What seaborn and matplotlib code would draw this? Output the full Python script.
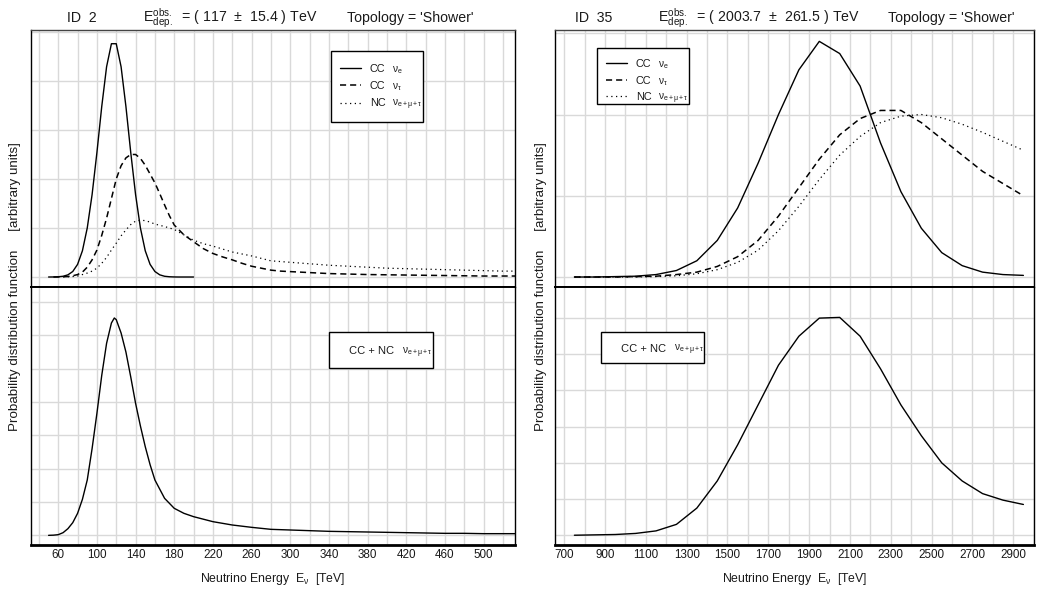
import matplotlib
matplotlib.use("Agg")
import matplotlib.pyplot as plt
import seaborn as sns
import numpy as np
import pandas as pd
from matplotlib.lines import Line2D
from matplotlib.patches import Rectangle

# ---------------- data ----------------
# Event ID 2 (left column)
l_cce_x = [50, 55, 60, 65, 70, 75, 80, 85, 90, 95, 100, 105, 110, 115, 120, 125, 130, 135,
           140, 145, 150, 155, 160, 165, 170, 175, 180, 185, 190, 200]
l_cce_y = [0.0, 0.001, 0.005, 0.015, 0.044, 0.112, 0.258, 0.535, 1.0, 1.68, 2.54, 3.48, 4.29,
           4.76, 4.76, 4.29, 3.48, 2.54, 1.68, 1.0, 0.535, 0.258, 0.112, 0.044, 0.015, 0.005,
           0.001, 0.0, 0.0, 0.0]
l_cct_x = [55, 60, 65, 70, 75, 80, 85, 90, 95, 100, 105, 110, 115, 120, 125, 130, 135, 140, 145,
           150, 155, 160, 165, 170, 175, 180, 190, 200, 210, 220, 230, 240, 250, 260, 270, 280,
           290, 300, 320, 340, 360, 380, 400, 420, 440, 460, 480, 500, 520, 533]
l_cct_y = [0.0, 0.0, 0.005, 0.01, 0.025, 0.05, 0.1, 0.2, 0.35, 0.55, 0.85, 1.2, 1.6, 2.0, 2.27,
           2.43, 2.5, 2.5, 2.42, 2.28, 2.1, 1.92, 1.7, 1.47, 1.25, 1.06, 0.86, 0.72, 0.58, 0.48,
           0.41, 0.35, 0.28, 0.22, 0.18, 0.14, 0.12, 0.11, 0.09, 0.07, 0.06, 0.05, 0.045, 0.04,
           0.035, 0.03, 0.025, 0.02, 0.02, 0.02]
l_nc_x = [65, 70, 75, 80, 85, 90, 95, 100, 105, 110, 115, 120, 125, 130, 135, 140, 145, 150, 155,
          160, 170, 180, 190, 200, 210, 220, 230, 240, 250, 260, 270, 280, 300, 320, 340, 360,
          380, 400, 420, 440, 460, 480, 500, 520, 533]
l_nc_y = [0.0, 0.005, 0.01, 0.02, 0.05, 0.08, 0.12, 0.18, 0.28, 0.4, 0.55, 0.69, 0.84, 0.96,
          1.07, 1.14, 1.16, 1.15, 1.12, 1.08, 1.03, 0.97, 0.86, 0.75, 0.68, 0.63, 0.57, 0.51,
          0.47, 0.43, 0.38, 0.33, 0.3, 0.27, 0.24, 0.22, 0.2, 0.18, 0.17, 0.16, 0.15, 0.14,
          0.13, 0.12, 0.12]
l_sum_x = [50, 55, 60, 65, 70, 75, 80, 85, 90, 95, 100, 105, 110, 115, 118, 120, 125, 130, 135,
           140, 145, 150, 155, 160, 170, 180, 190, 200, 220, 240, 260, 280, 300, 320, 340, 360,
           380, 400, 420, 440, 460, 480, 500, 520, 533]
l_sum_y = [0.0, 0.005, 0.02, 0.08, 0.2, 0.38, 0.66, 1.08, 1.66, 2.6, 3.66, 4.8, 5.76, 6.37, 6.52,
           6.47, 6.07, 5.5, 4.75, 3.96, 3.28, 2.66, 2.12, 1.66, 1.11, 0.81, 0.66, 0.56, 0.41,
           0.31, 0.24, 0.18, 0.16, 0.14, 0.12, 0.11, 0.1, 0.09, 0.08, 0.07, 0.06, 0.06, 0.05,
           0.05, 0.05]

# Event ID 35 (right column)
r_x = [750, 850, 950, 1050, 1150, 1250, 1350, 1450, 1550, 1650, 1750, 1850, 1950, 2050, 2150,
       2250, 2350, 2450, 2550, 2650, 2750, 2850, 2950]
r_cce_y = [0.0, 0.0, 0.005, 0.01, 0.03, 0.08, 0.2, 0.45, 0.85, 1.4, 2.0, 2.55, 2.9, 2.75, 2.35,
           1.65, 1.05, 0.6, 0.3, 0.14, 0.06, 0.03, 0.02]
r_cct_y = [0.0, 0.0, 0.0, 0.005, 0.01, 0.03, 0.06, 0.13, 0.25, 0.45, 0.75, 1.1, 1.45, 1.75, 1.95,
           2.05, 2.05, 1.9, 1.7, 1.5, 1.3, 1.15, 1.0]
r_nc_y = [0.0, 0.0, 0.0, 0.0, 0.005, 0.015, 0.04, 0.09, 0.18, 0.33, 0.57, 0.87, 1.2, 1.5, 1.73,
          1.9, 1.98, 2.0, 1.96, 1.88, 1.78, 1.67, 1.56]
r_sum_y = [0.0, 0.01, 0.02, 0.05, 0.12, 0.3, 0.75, 1.5, 2.5, 3.6, 4.7, 5.5, 6.0, 6.02, 5.5, 4.6,
           3.6, 2.75, 2.0, 1.5, 1.15, 0.97, 0.85]

left_xticks = [60, 100, 140, 180, 220, 260, 300, 340, 380, 420, 460, 500]
right_xticks = [700, 900, 1100, 1300, 1500, 1700, 1900, 2100, 2300, 2500, 2700, 2900]

titles = [("ID  2", r"E$^{\rm obs.}_{\rm dep.}$  = ( 117  ±  15.4 ) TeV", "Topology = 'Shower'"),
          ("ID  35", r"E$^{\rm obs.}_{\rm dep.}$  = ( 2003.7  ±  261.5 ) TeV", "Topology = 'Shower'")]

# ---------------- style ----------------
sns.set_style("white")
plt.rcParams['font.family'] = ['Liberation Sans', 'DejaVu Sans']
plt.rcParams['mathtext.fontset'] = 'custom'
plt.rcParams['mathtext.rm'] = 'Liberation Sans'
plt.rcParams['mathtext.it'] = 'Liberation Sans'
plt.rcParams['mathtext.sf'] = 'Liberation Sans'
plt.rcParams['mathtext.bf'] = 'Liberation Sans:bold'

W, H = 1038, 592
fig = plt.figure(figsize=(W / 100, H / 100), dpi=100)


def fx(px):
    return px / W


def fy(py):
    return 1 - py / H


def add_ax(x0, x1, y0, y1):
    return fig.add_axes([fx(x0), fy(y1), fx(x1) - fx(x0), fy(y0) - fy(y1)])


GRID = '#d9d9d9'
TXT = '#1a1a1a'
solid = dict(color='black', lw=1.0, linestyle='-')
dashed = dict(color='black', lw=1.1, linestyle=(0, (4, 2.6)))
dotted = dict(color='black', lw=0.9, linestyle=(0, (1, 2.8)))

cols = [dict(x0=30.7, x1=515, xlim=(31.5, 532.5), step=20, ticks=left_xticks,
             top_ylim=(-0.204, 5.04), top_n=5, bot_ylim=(-0.29, 7.45), bot_n=7),
        dict(x0=555, x1=1034, xlim=(655, 3002), step=100, ticks=right_xticks,
             top_ylim=(-0.123, 3.04), top_n=3, bot_ylim=(-0.27, 6.86), bot_n=6)]

axes = []
for c in cols:
    at = add_ax(c['x0'], c['x1'], 30, 287)
    ab = add_ax(c['x0'], c['x1'], 287, 545)
    axes.append((at, ab))

(lt, lb), (rt, rb) = axes

# left column curves
sns.lineplot(x=l_cce_x, y=l_cce_y, ax=lt, errorbar=None, **solid)
sns.lineplot(x=l_cct_x, y=l_cct_y, ax=lt, errorbar=None, **dashed)
sns.lineplot(x=l_nc_x, y=l_nc_y, ax=lt, errorbar=None, **dotted)
sns.lineplot(x=l_sum_x, y=l_sum_y, ax=lb, errorbar=None, **solid)
# right column curves
sns.lineplot(x=r_x, y=r_cce_y, ax=rt, errorbar=None, **solid)
sns.lineplot(x=r_x, y=r_cct_y, ax=rt, errorbar=None, **dashed)
sns.lineplot(x=r_x, y=r_nc_y, ax=rt, errorbar=None, **dotted)
sns.lineplot(x=r_x, y=r_sum_y, ax=rb, errorbar=None, **solid)

# axes cosmetics (after plotting so seaborn does not reset limits)
for c, (at, ab) in zip(cols, axes):
    for ax, ylim, n in ((at, c['top_ylim'], c['top_n']), (ab, c['bot_ylim'], c['bot_n'])):
        ax.set_xlabel('')
        ax.set_ylabel('')
        grid_x = np.arange(c['ticks'][0] - c['step'] * 2, c['xlim'][1] + 1, c['step'])
        ax.set_xticks(c['ticks'])
        ax.set_xticks([g for g in grid_x if g not in c['ticks']], minor=True)
        ax.set_yticks(range(0, n + 1))
        ax.set_xlim(*c['xlim'])
        ax.set_ylim(*ylim)
        ax.grid(True, which='both', color=GRID, lw=1.0)
        ax.set_axisbelow(True)
        ax.tick_params(axis='y', which='both', length=0, labelleft=False)
        for s in ax.spines.values():
            s.set_color('black')
            s.set_linewidth(1.0)
            s.set_visible(True)
    at.spines['top'].set_color('#444444')
    at.tick_params(axis='x', which='both', length=0, labelbottom=False)
    at.spines['bottom'].set_linewidth(1.4)
    ab.spines['top'].set_linewidth(1.4)
    ab.spines['bottom'].set_linewidth(2.0)
    ab.tick_params(axis='x', which='major', length=0, pad=3, labelsize=8.4, labelcolor=TXT)
    ab.tick_params(axis='x', which='minor', length=3.5, width=1.0, direction='out', color='#333333')

# ---------------- texts ----------------
title_x = [(67, 143, 347), (575, 658, 888)]
for (t1, t2, t3), (x1, x2, x3) in zip(titles, title_x):
    fig.text(fx(x1), fy(22), t1, fontsize=10.2, color=TXT, va='baseline')
    fig.text(fx(x2), fy(22), t2, fontsize=10.2, color=TXT, va='baseline')
    fig.text(fx(x3), fy(22), t3, fontsize=10.2, color=TXT, va='baseline')

for c in cols:
    cx = (c['x0'] + c['x1']) / 2
    fig.text(fx(cx), fy(582), r"Neutrino Energy  E$_{\nu}$  [TeV]", fontsize=8.8,
             color=TXT, ha='center', va='baseline')
ylab = "Probability distribution function     [arbitrary units]"
fig.text(fx(15), fy(287), ylab, rotation=90, fontsize=9.6, color=TXT, ha='center', va='center')
fig.text(fx(541), fy(287), ylab, rotation=90, fontsize=9.6, color=TXT, ha='center', va='center')


# ---------------- legends ----------------
def legend3(x0, y0, x1, y1, rows):
    fig.add_artist(Rectangle((fx(x0), fy(y1)), fx(x1) - fx(x0), fy(y0) - fy(y1),
                             transform=fig.transFigure, fc='white', ec='black', lw=1.0))
    for yy, style, a, b in rows:
        fig.add_artist(Line2D([fx(x0 + 9), fx(x0 + 30)], [fy(yy), fy(yy)],
                              transform=fig.transFigure, **style))
        fig.text(fx(x0 + 39), fy(yy + 3.8), a, fontsize=7.8, color=TXT, va='baseline')
        fig.text(fx(x0 + 61), fy(yy + 3.8), b, fontsize=7.2, color=TXT, va='baseline')


rows_l = [(68.3, solid, "CC", r"ν$_{\rm e}$"),
          (85.0, dashed, "CC", r"ν$_{\rm \tau}$"),
          (102.7, dotted, "NC", r"ν$_{\rm e+\mu+\tau}$")]
legend3(331, 51, 423, 122, rows_l)
rows_r = [(63, solid, "CC", r"ν$_{\rm e}$"),
          (80, dashed, "CC", r"ν$_{\rm \tau}$"),
          (96, dotted, "NC", r"ν$_{\rm e+\mu+\tau}$")]
legend3(597, 48, 689, 104, rows_r)


def legend1(x0, y0, x1, y1):
    fig.add_artist(Rectangle((fx(x0), fy(y1)), fx(x1) - fx(x0), fy(y0) - fy(y1),
                             transform=fig.transFigure, fc='white', ec='black', lw=1.0))
    ym = (y0 + y1) / 2 + 4
    fig.text(fx(x0 + 20), fy(ym), "CC + NC", fontsize=8.0, color=TXT, va='baseline')
    fig.text(fx(x0 + 73), fy(ym), r"ν$_{\rm e+\mu+\tau}$", fontsize=7.2, color=TXT, va='baseline')


legend1(329.3, 332.3, 432.7, 368.3)
legend1(600.7, 332.3, 704, 362.7)

fig.savefig("out.png", dpi=100, facecolor='white')
